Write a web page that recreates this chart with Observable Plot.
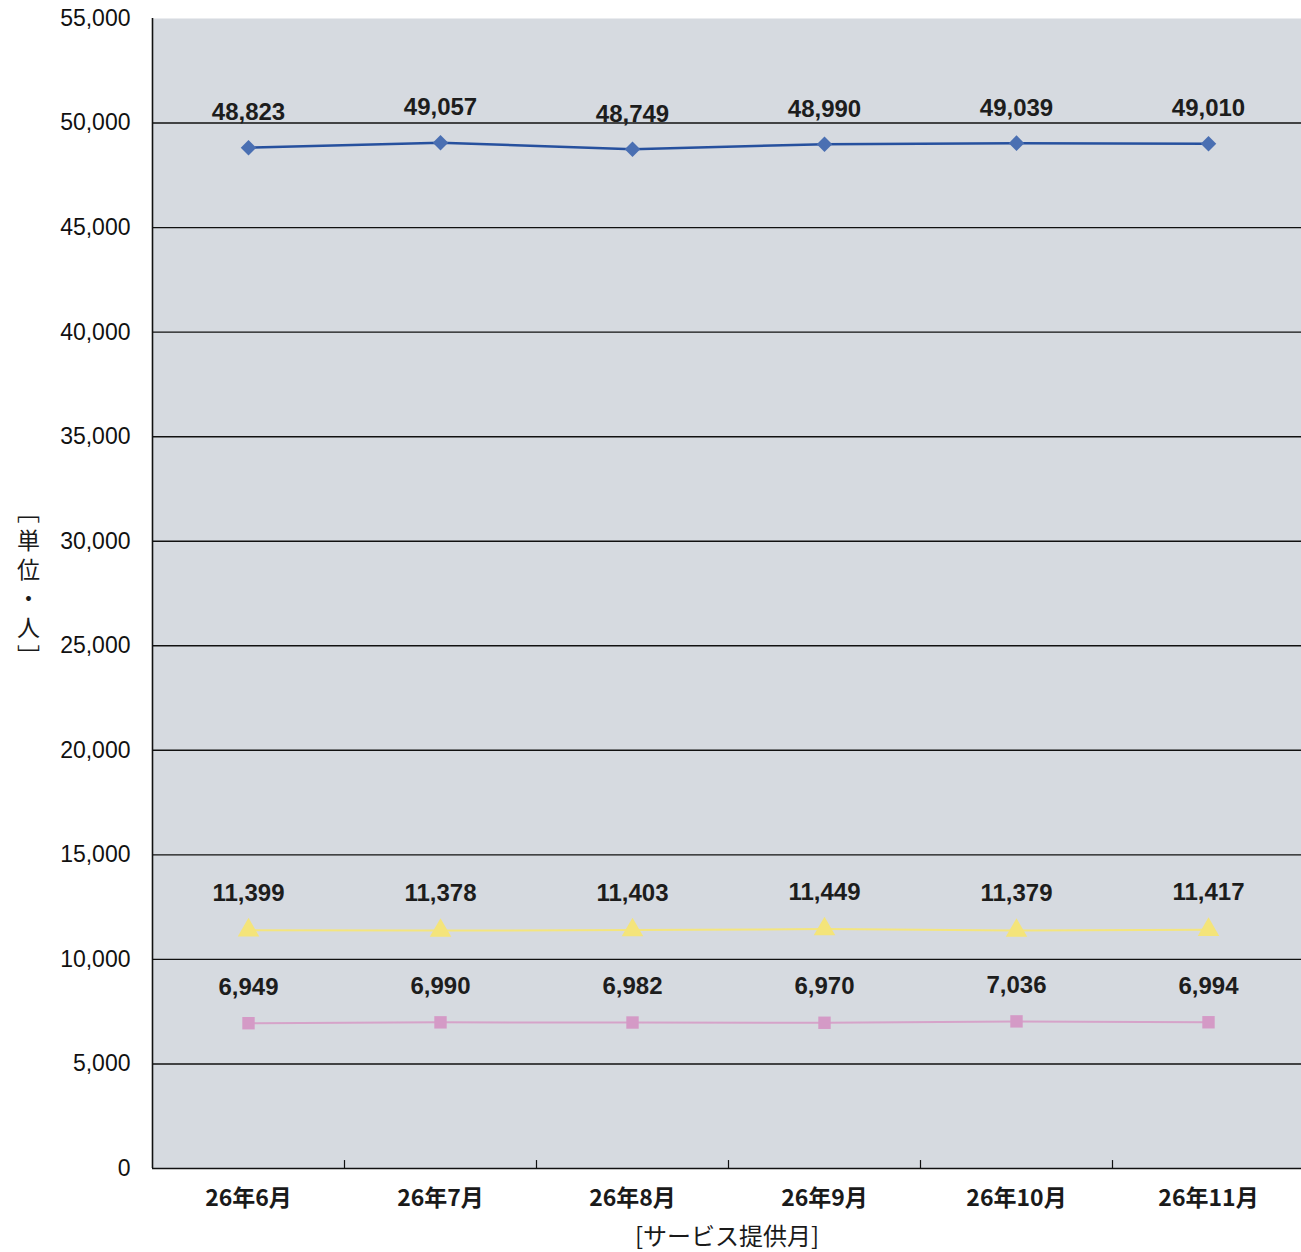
<!DOCTYPE html>
<html>
<head>
<meta charset="utf-8">
<script src="https://cdn.jsdelivr.net/npm/d3@7"></script>
<script src="https://cdn.jsdelivr.net/npm/@observablehq/plot@0.6"></script>
<style>
  html, body { margin: 0; padding: 0; background: #fff; }
  #chart svg { display: block; }
</style>
</head>
<body>
<div id="chart"></div>
<script>
const months = ["26年6月", "26年7月", "26年8月", "26年9月", "26年10月", "26年11月"];
const seriesA = [48823, 49057, 48749, 48990, 49039, 49010];
const seriesB = [11399, 11378, 11403, 11449, 11379, 11417];
const seriesC = [6949, 6990, 6982, 6970, 7036, 6994];
const yTicks = [0, 5000, 10000, 15000, 20000, 25000, 30000, 35000, 40000, 45000, 50000, 55000];
const yLabel = "［単位・人］";
const xLabel = "[サービス提供月]";

const rows = (vals) => months.map((m, i) => ({month: m, value: vals[i]}));
const A = rows(seriesA), B = rows(seriesB), C = rows(seriesC);
const fmt = d3.format(",");
const labelFont = "Liberation Sans, Arial, sans-serif";
const cjkFont = "Noto Sans CJK JP, sans-serif";

const chart = Plot.plot({
  width: 1301,
  height: 1252,
  marginTop: 18,
  marginBottom: 84,
  marginLeft: 152,
  marginRight: 0,
  style: {background: "#fff", fontFamily: labelFont},
  x: {type: "point", domain: months, range: [152, 1304], padding: 0.5, label: null},
  y: {domain: [0, 55000], range: [1168, 18], label: null},
  marks: [
    Plot.frame({fill: "#d6dae0", stroke: null}),
    Plot.ruleY(yTicks.filter(d => d > 0 && d < 55000), {stroke: "#111", strokeWidth: 1.4}),
    Plot.ruleY([0], {stroke: "#111", strokeWidth: 1.6}),
    Plot.ruleX([months[0]], {dx: -96, stroke: "#111", strokeWidth: 1.6}),
    Plot.ruleX(months.slice(0, 5), {x: d => d, dx: 96, y1: 0, y2: 380, stroke: "#111", strokeWidth: 1.2}),
    Plot.axisY({ticks: yTicks, tickFormat: fmt, tickSize: 0, tickPadding: 22, fontSize: 23, fontFamily: labelFont, fill: "#111", label: null}),
    Plot.axisX({tickSize: 0, tickPadding: 21, fontSize: 23, fontWeight: "bold", fontFamily: cjkFont, fill: "#1a1a1a", label: null}),
    Plot.text([xLabel], {frameAnchor: "bottom", dy: 69, lineAnchor: "middle", fontSize: 24, fontFamily: cjkFont, fill: "#1a1a1a"}),
    Plot.text([yLabel], {frameAnchor: "left", textAnchor: "middle", dx: -124, dy: -14, fontSize: 23, fontFamily: cjkFont, fill: "#1a1a1a", className: "ylabel-vert"}),

    Plot.line(C, {x: "month", y: "value", stroke: "#d6a3c9", strokeWidth: 2}),
    Plot.dot(C, {x: "month", y: "value", symbol: "square", r: 7, fill: "#d49ac6"}),
    Plot.line(B, {x: "month", y: "value", stroke: "#f4e57e", strokeWidth: 2}),
    Plot.dot(B, {x: "month", y: "value", symbol: "triangle", r: 8, fill: "#f4e47a"}),
    Plot.line(A, {x: "month", y: "value", stroke: "#26509e", strokeWidth: 2.5}),
    Plot.dot(A, {x: "month", y: "value", symbol: "diamond2", r: 7, fill: "#4a6fb2"}),

    Plot.text(A, {x: "month", y: "value", text: d => fmt(d.value), dy: -35, fontSize: 24, fontWeight: "bold", fill: "#1d1d1d"}),
    Plot.text(B, {x: "month", y: "value", text: d => fmt(d.value), dy: -37, fontSize: 24, fontWeight: "bold", fill: "#1d1d1d"}),
    Plot.text(C, {x: "month", y: "value", text: d => fmt(d.value), dy: -36, fontSize: 24, fontWeight: "bold", fill: "#1d1d1d"})
  ]
});
d3.select(chart).selectAll("g.ylabel-vert text")
  .attr("dy", null)
  .style("writing-mode", "vertical-rl")
  .style("dominant-baseline", "central")
  .style("letter-spacing", "6px");
document.getElementById("chart").appendChild(chart);
</script>
</body>
</html>
